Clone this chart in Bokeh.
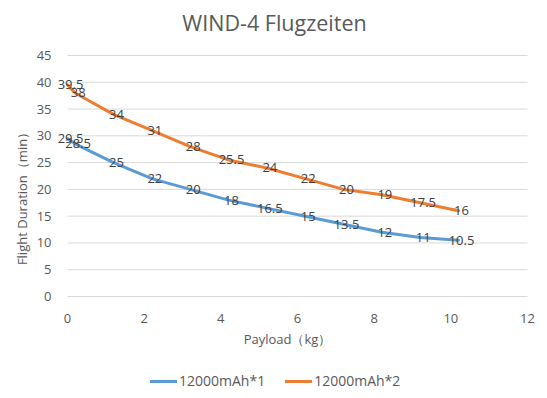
from bokeh.plotting import figure
from bokeh.models import ColumnDataSource, Range1d, Legend, LegendItem, Label, LabelSet
from bokeh.embed import file_html
from bokeh.resources import INLINE
from bokeh.core.properties import value

payload = [0, 0.2, 1.2, 2.2, 3.2, 4.2, 5.2, 6.2, 7.2, 8.2, 9.2, 10.2]
duration_1 = [29.5, 28.5, 25, 22, 20, 18, 16.5, 15, 13.5, 12, 11, 10.5]
duration_2 = [39.5, 38, 34, 31, 28, 25.5, 24, 22, 20, 19, 17.5, 16]
series_names = ["12000mAh*1", "12000mAh*2"]
colors = ["#5B9BD5", "#ED7D31"]
title_text = "WIND-4 Flugzeiten"
x_label = "Payload（kg）"
y_label = "Flight Duration（min）"
x_ticks = [0, 2, 4, 6, 8, 10, 12]
y_ticks = [0, 5, 10, 15, 20, 25, 30, 35, 40, 45]

FONT = "Open Sans"
TXT = "#595959"

# Layout in pixels: plot area from x=0 (px 67) to x=12 (px 527), y=0 (px 296) to y=45 (px 55).
W, H = 539, 390
LEFT, RIGHT = 53, 0
px_x = (527 - 67) / 12.0
px_y = (296 - 55) / 45.0
x_start = -(67 - LEFT) / px_x
x_end = 12 + (W - RIGHT - 527) / px_x
y_start = -(H - 296) / px_y
y_end = 45 + 55 / px_y

p = figure(width=W, height=H, output_backend="svg", toolbar_location=None,
           x_range=Range1d(x_start, x_end), y_range=Range1d(y_start, y_end),
           min_border_left=LEFT, min_border_right=RIGHT, min_border_top=0, min_border_bottom=0)

p.outline_line_color = None
p.background_fill_color = "white"
p.border_fill_color = "white"
p.xgrid.visible = False
p.ygrid.visible = False
p.xaxis.visible = False

# horizontal gridlines over the x extent
p.segment(x0=[x_ticks[0]] * len(y_ticks), x1=[x_ticks[-1]] * len(y_ticks), y0=y_ticks, y1=y_ticks,
          line_color="#D9D9D9", line_width=1)

ax = p.yaxis[0]
ax.ticker = y_ticks
ax.axis_line_color = None
ax.major_tick_line_color = None
ax.minor_tick_line_color = None
ax.major_tick_out = 0
ax.major_tick_in = 0
ax.minor_tick_out = 0
ax.major_label_text_font = FONT
ax.major_label_text_font_size = "13px"
ax.major_label_text_color = TXT
ax.major_label_standoff = 2
ax.axis_label = y_label
ax.axis_label_text_font = FONT
ax.axis_label_text_font_size = "13px"
ax.axis_label_text_font_style = "normal"
ax.axis_label_text_color = TXT
ax.axis_label_standoff = 3

# x tick labels and x axis title, placed through the x scale
xt_src = ColumnDataSource(dict(x=x_ticks, y=[0] * len(x_ticks), t=[str(v) for v in x_ticks]))
p.add_layout(LabelSet(x="x", y="y", text="t", source=xt_src, y_offset=-22,
                      text_align="center", text_baseline="middle",
                      text_font=value(FONT), text_font_size="13px", text_color=TXT))
p.add_layout(Label(x=(x_ticks[0] + x_ticks[-1]) / 2, y=0, y_offset=-42, x_offset=-10, text=x_label,
                   text_align="center", text_baseline="middle",
                   text_font=FONT, text_font_size="13px", text_color=TXT))

# title
p.add_layout(Label(x=274 - LEFT, y=H - 22, x_units="screen", y_units="screen", text=title_text,
                   text_align="center", text_baseline="middle",
                   text_font=FONT, text_font_size="21.5px", text_color=TXT))

items = []
for ys, name, col in zip([duration_1, duration_2], series_names, colors):
    src = ColumnDataSource(dict(x=payload, y=ys, t=[f"{v:g}" for v in ys]))
    r = p.line("x", "y", source=src, line_color=col, line_width=3, line_cap="round", line_join="round")
    items.append(LegendItem(label=name, renderers=[r]))
    p.add_layout(LabelSet(x="x", y="y", text="t", source=src, x_offset=3,
                          text_align="center", text_baseline="middle",
                          text_font=value(FONT), text_font_size="13px", text_color="#404040"))

legend = Legend(items=items, orientation="horizontal", location=(150 - LEFT, 0),
                border_line_color=None, background_fill_alpha=0,
                label_text_font=FONT, label_text_font_size="14px", label_text_color=TXT,
                glyph_width=27, glyph_height=10, label_standoff=2, spacing=20,
                margin=0, padding=0)
p.add_layout(legend, "center")

open("out.html", "w").write(file_html(p, INLINE))
